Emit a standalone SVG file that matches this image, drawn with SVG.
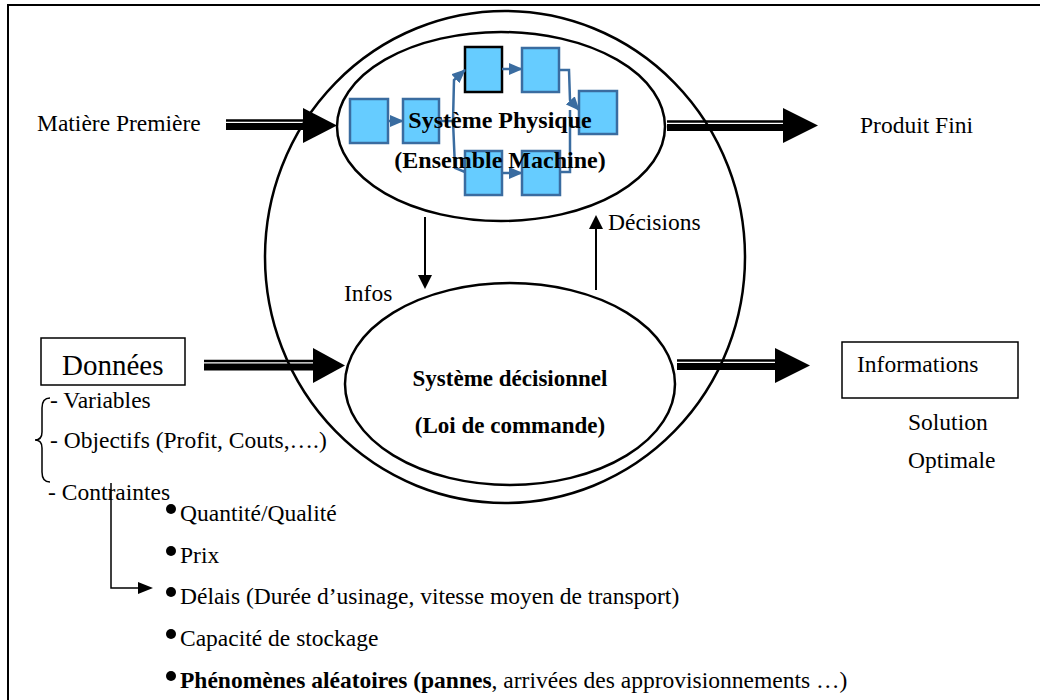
<svg xmlns="http://www.w3.org/2000/svg" width="1040" height="700" viewBox="0 0 1040 700">
<defs>
<style>
.t{font-family:"Liberation Serif","Times New Roman",serif;font-size:23.5px;fill:#000}
.b{font-family:"Liberation Serif","Times New Roman",serif;font-size:24px;font-weight:bold;fill:#000}
.el{fill:none;stroke:#000;stroke-width:2.5}
.bx{fill:#66CCFF;stroke:#3A6CA0;stroke-width:2.5}
.bl{fill:none;stroke:#3A6CA0;stroke-width:2.5}
.ln{fill:none;stroke:#000;stroke-width:2}
</style>
<marker id="ba" markerUnits="userSpaceOnUse" markerWidth="14" markerHeight="12" refX="13" refY="6" orient="auto" viewBox="0 0 14 12">
<path d="M0,0 L14,6 L0,12 z" fill="#3A6CA0"/>
</marker>
</defs>

<path d="M8,700 V5 H1040" fill="none" stroke="#000" stroke-width="2"/>

<g id="system-global">
<ellipse class="el" cx="505" cy="257" rx="240" ry="246"/>
</g>

<g id="systeme-physique">
<ellipse class="el" cx="501" cy="126.5" rx="164" ry="94.5"/>
<rect class="bx" x="350" y="99" width="38" height="44"/>
<rect class="bx" x="403" y="99" width="36" height="44"/>
<rect class="bx" x="465" y="47" width="37" height="45" style="stroke:#000"/>
<rect class="bx" x="522" y="48" width="37" height="44"/>
<rect class="bx" x="579" y="91" width="38" height="43"/>
<rect class="bx" x="465" y="151" width="37" height="44"/>
<rect class="bx" x="522" y="151" width="38" height="44"/>
<path class="bl" d="M388,121 H403" marker-end="url(#ba)"/>
<path class="bl" d="M502,69 H522" marker-end="url(#ba)"/>
<path class="bl" d="M502,173 H522" marker-end="url(#ba)"/>
<path class="bl" d="M439,121 H453 L454,80 L465,70" marker-end="url(#ba)"/>
<path class="bl" d="M453,121 L455,168 L465,172"/>
<path class="bl" d="M559,70 H569 L570,100 L579,110" marker-end="url(#ba)"/>
<path class="bl" d="M560,172 H570 L570,110"/>
<text class="b" x="500" y="128" text-anchor="middle">Système Physique</text>
<text class="b" x="500" y="168" text-anchor="middle">(Ensemble Machine)</text>
</g>

<g id="systeme-decisionnel">
<ellipse class="el" cx="510" cy="384" rx="165" ry="101"/>
<text class="b" x="510" y="386" text-anchor="middle" style="font-size:23px">Système décisionnel</text>
<text class="b" x="510" y="433" text-anchor="middle" style="font-size:23px">(Loi de commande)</text>
</g>

<g id="matiere">
<text class="t" x="37" y="131">Matière Première</text>
</g>
<g id="produit">
<text class="t" x="860" y="133">Produit Fini</text>
</g>
<g id="donnees">
<rect x="41" y="338" width="144" height="47" fill="none" stroke="#000" stroke-width="1.5"/>
<text class="t" x="62" y="375" style="font-size:29px">Données</text>
</g>
<g id="informations">
<rect x="842" y="342" width="176" height="56" fill="none" stroke="#000" stroke-width="1.5"/>
<text class="t" x="857" y="372">Informations</text>
<text class="t" x="908" y="430">Solution</text>
<text class="t" x="908" y="468">Optimale</text>
</g>

<g id="liste-donnees">
<path d="M50,398 Q42,398 42,408 L42,432 Q42,440 35,440 Q42,440 42,448 L42,472 Q42,482 50,482" fill="none" stroke="#000" stroke-width="1.5"/>
<text class="t" x="50" y="408">- Variables</text>
<text class="t" x="50" y="448">- Objectifs (Profit, Couts,….)</text>
<text class="t" x="48" y="500">- Contraintes</text>
</g>

<g id="contraintes">
<circle cx="171" cy="509" r="5"/>
<text class="t" x="180" y="521">Quantité/Qualité</text>
<circle cx="171" cy="551" r="5"/>
<text class="t" x="180" y="563">Prix</text>
<circle cx="171" cy="592" r="5"/>
<text class="t" x="180" y="604">Délais (Durée d’usinage, vitesse moyen de transport)</text>
<circle cx="171" cy="634" r="5"/>
<text class="t" x="180" y="646">Capacité de stockage</text>
<circle cx="171" cy="676" r="5"/>
<text class="t" x="180" y="688"><tspan font-weight="bold">Phénomènes aléatoires (pannes</tspan>, arrivées des approvisionnements …)</text>
</g>

<g id="connecteurs">
<g id="fl-matiere">
<line x1="226" y1="120.5" x2="305" y2="120.5" stroke="#000" stroke-width="2.5"/>
<line x1="226" y1="126.5" x2="305" y2="126.5" stroke="#000" stroke-width="7"/>
<polygon points="303,108 337,125.5 303,143"/>
</g>
<g id="fl-produit">
<line x1="667" y1="121.5" x2="785" y2="121.5" stroke="#000" stroke-width="2.5"/>
<line x1="667" y1="127.5" x2="785" y2="127.5" stroke="#000" stroke-width="7"/>
<polygon points="783,108 818,125.5 783,143"/>
</g>
<g id="fl-donnees">
<line x1="204" y1="361" x2="315" y2="361" stroke="#000" stroke-width="2.5"/>
<line x1="204" y1="367" x2="315" y2="367" stroke="#000" stroke-width="7"/>
<polygon points="313,348 345,365.5 313,383"/>
</g>
<g id="fl-informations">
<line x1="677" y1="360.5" x2="777" y2="360.5" stroke="#000" stroke-width="2.5"/>
<line x1="677" y1="366.5" x2="777" y2="366.5" stroke="#000" stroke-width="7"/>
<polygon points="775,348 810,365.5 775,383"/>
</g>
<g id="fl-infos">
<line class="ln" x1="425" y1="217" x2="425" y2="277"/>
<polygon points="418,275 432,275 425,289"/>
<text class="t" x="344" y="301">Infos</text>
</g>
<g id="fl-decisions">
<line class="ln" x1="596" y1="290" x2="596" y2="227"/>
<polygon points="589,229 603,229 596,215"/>
<text class="t" x="608" y="230">Décisions</text>
</g>
<g id="fl-contraintes">
<path d="M111,483 V588 H140" fill="none" stroke="#000" stroke-width="1.5"/>
<polygon points="138,582 153,588 138,594"/>
</g>
</g>
</svg>
